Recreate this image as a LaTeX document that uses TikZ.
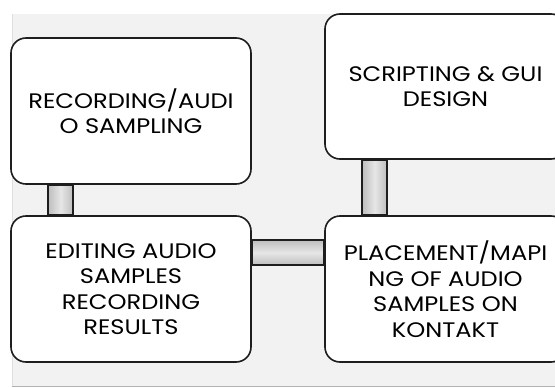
\documentclass[tikz,border=0pt]{standalone}
\usepackage{fontspec}
\setmainfont{Poppins}[FakeStretch=1.15]
\usetikzlibrary{calc}
\definecolor{panel}{HTML}{F2F2F2}
\definecolor{edge}{HTML}{1E1E1E}
\definecolor{bardark}{HTML}{BEBEBE}
\definecolor{barlight}{HTML}{E6E6E6}
\tikzset{
  stage/.style={rectangle, rounded corners=15pt, draw=edge, line width=1.6pt, fill=white,
    minimum width=240pt, minimum height=146pt, align=center, inner sep=0pt,
    font=\fontsize{21}{25.5}\selectfont},
  vbar/.style={draw=edge, line width=1.6pt, left color=bardark, right color=bardark, middle color=barlight},
  hbar/.style={draw=edge, line width=1.6pt, top color=bardark, bottom color=bardark, middle color=barlight}
}
\begin{document}
\begin{tikzpicture}[x=1pt,y=-1pt]
\useasboundingbox (0,0) rectangle (555,388);
\clip (0,0) rectangle (555,388);
\fill[panel] (12,14) rectangle (560,386);
\draw[gray!60, line width=1pt] (12,386.5) -- (560,386.5);
\draw[gray!25, line width=1pt] (12,14) -- (12,386);
\node[stage] (rec) at (131,111) {RECORDING/AUDI\\O SAMPLING};
\node[stage, minimum width=241pt, minimum height=145pt] (scr) at (445.5,86.5) {SCRIPTING \& GUI\\DESIGN};
\node[stage] (edit) at (131,289) {EDITING AUDIO\\SAMPLES\\RECORDING\\RESULTS};
\node[stage, minimum width=241pt] (place) at (445.5,289) {PLACEMENT/MAPI\\NG OF AUDIO\\SAMPLES ON\\KONTAKT};
\path[vbar] ($(rec.south west)+(38,0)$) rectangle ($(edit.north west)+(63,0)$);
\path[vbar] ($(scr.south west)+(38,0)$) rectangle ($(place.north west)+(63,0)$);
\path[hbar] ($(edit.north east)+(0,25)$) rectangle ($(place.north west)+(0,50)$);
\end{tikzpicture}
\end{document}
